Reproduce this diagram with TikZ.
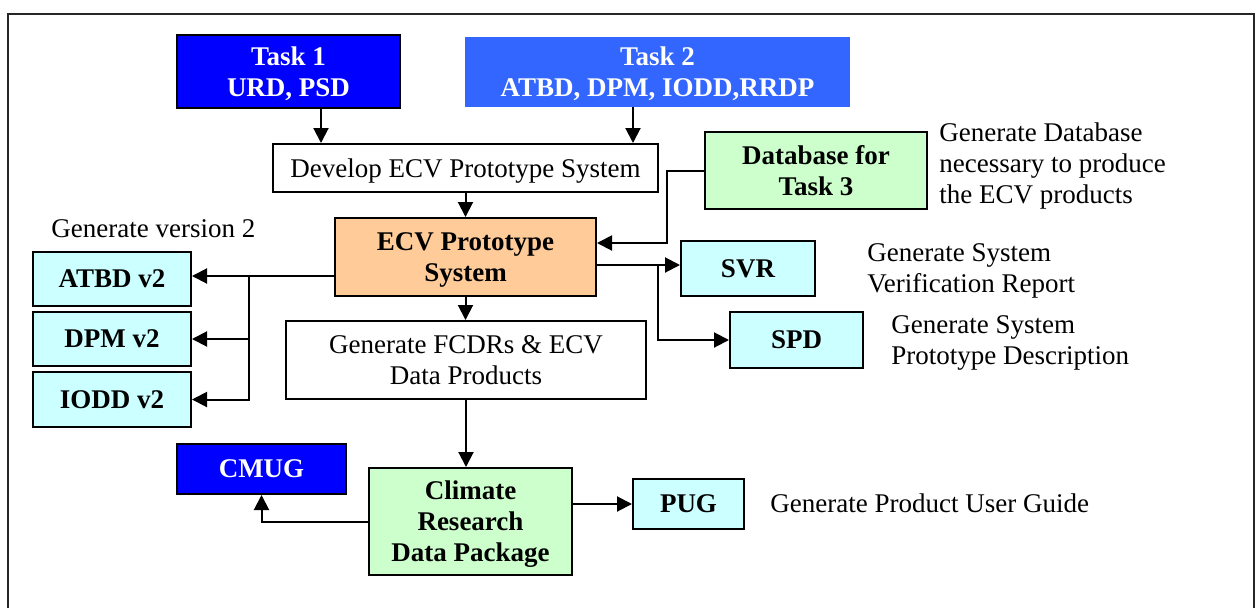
\documentclass[tikz,border=0pt]{standalone}
\usepackage{fontspec}
\setmainfont{Liberation Serif}
\usetikzlibrary{arrows.meta}
\definecolor{taskblue}{HTML}{0000FF}
\definecolor{tasklight}{HTML}{3366FF}
\definecolor{docfill}{HTML}{CCFFFF}
\definecolor{greenfill}{HTML}{CCFFCC}
\definecolor{orangefill}{HTML}{FFCC99}
\tikzset{
  base/.style={inner sep=0pt, align=center, text depth=0pt, font=\fontsize{13.5}{15.5}\selectfont},
  sz/.style 2 args={minimum width=#1pt, minimum height=#2pt},
  boxed/.style={base, draw=black, line width=1pt},
  taskbox/.style={boxed, fill=taskblue, text=white, font=\fontsize{13.5}{15.5}\selectfont\bfseries},
  lighttask/.style={base, fill=tasklight, text=white, font=\fontsize{13.5}{15.5}\selectfont\bfseries},
  plainbox/.style={boxed, fill=white},
  docbox/.style={boxed, fill=docfill, font=\fontsize{13.5}{15.5}\selectfont\bfseries},
  greenbox/.style={boxed, fill=greenfill, font=\fontsize{13.5}{15.5}\selectfont\bfseries},
  orangebox/.style={boxed, fill=orangefill, font=\fontsize{13.5}{15.5}\selectfont\bfseries},
  note/.style={base, align=left, anchor=west},
  arr/.style={line width=1pt, -{Triangle[length=7.5pt,width=7.5pt]}},
}
\begin{document}
\begin{tikzpicture}[x=0.5pt,y=-0.5pt]
\useasboundingbox (0,0) rectangle (1260,607);
% outer frame
\draw[line width=0.8pt, black!85] (8,14) rectangle (1254,640);

% input tasks
\node[taskbox, sz={111.5}{36.5}] (t1) at (288.5,71.5) {Task 1\\URD, PSD};
\node[lighttask, sz={192.5}{35}] (t2) at (657.5,72) {Task 2\\ATBD, DPM, IODD,RRDP};

% development chain
\node[plainbox, sz={192.5}{24}] (dev) at (465.5,168) {Develop ECV Prototype System};
\node[greenbox, sz={111}{38.5}] (db) at (816,170.5) {Database for\\Task 3};
\node[orangebox, sz={130.5}{39}] (ecv) at (465.5,257) {ECV Prototype\\System};
\node[docbox, sz={67}{27.5}] (svr) at (748,268.5) {SVR};
\node[docbox, sz={66.5}{28}] (spd) at (796.5,340) {SPD};
\node[docbox, sz={79}{27}] (atbd) at (112,279) {ATBD v2};
\node[docbox, sz={79}{27}] (dpm) at (112,339) {DPM v2};
\node[docbox, sz={79}{27.5}] (iodd) at (112,399.5) {IODD v2};
\node[plainbox, sz={180}{39}] (fcdr) at (466,360) {Generate FCDRs \& ECV\\Data Products};
\node[taskbox, sz={84.5}{25}] (cmug) at (261.5,469) {CMUG};
\node[greenbox, sz={101.5}{53.5}] (crdp) at (470.5,521.5) {Climate\\Research\\Data Package};
\node[docbox, sz={55.5}{25}] (pug) at (688.5,504) {PUG};

% annotations
\node[note] (nv2) at (51,229) {Generate version 2};
\node[note] (ndb) at (939,163) {Generate Database\\necessary to produce\\the ECV products};
\node[note] (nsvr) at (867,268) {Generate System\\Verification Report};
\node[note] (nspd) at (891,340) {Generate System\\Prototype Description};
\node[note] (npug) at (770,503) {Generate Product User Guide};

% junction points
\coordinate (dbj) at (667,243);
\coordinate (ej) at (658,265);
\coordinate (lj) at (249,276);

% connectors
\draw[arr] ([xshift=16.25pt]t1.south) -- ([xshift=16.25pt]t1.south |- dev.north);
\draw[arr] ([xshift=-12.25pt]t2.south) -- ([xshift=-12.25pt]t2.south |- dev.north);
\draw[arr] (dev.south) -- (dev.south |- ecv.north);
\draw[arr] (db.west) -| (dbj) -- (dbj -| ecv.east);
\draw[arr] (ej -| ecv.east) -- (ej -| svr.west);
\draw[arr] (ej) |- (spd.west);
\draw[arr] (ecv.south) -- (ecv.south |- fcdr.north);
\draw[arr] (lj -| ecv.west) -- (lj -| atbd.east);
\draw[arr] (lj) |- (dpm.east);
\draw[arr] (lj) |- (iodd.east);
\draw[arr] (fcdr.south) -- (fcdr.south |- crdp.north);
\draw[arr] (crdp.west) -| (cmug.south);
\draw[arr] (crdp.east |- pug.west) -- (pug.west);
\end{tikzpicture}
\end{document}
